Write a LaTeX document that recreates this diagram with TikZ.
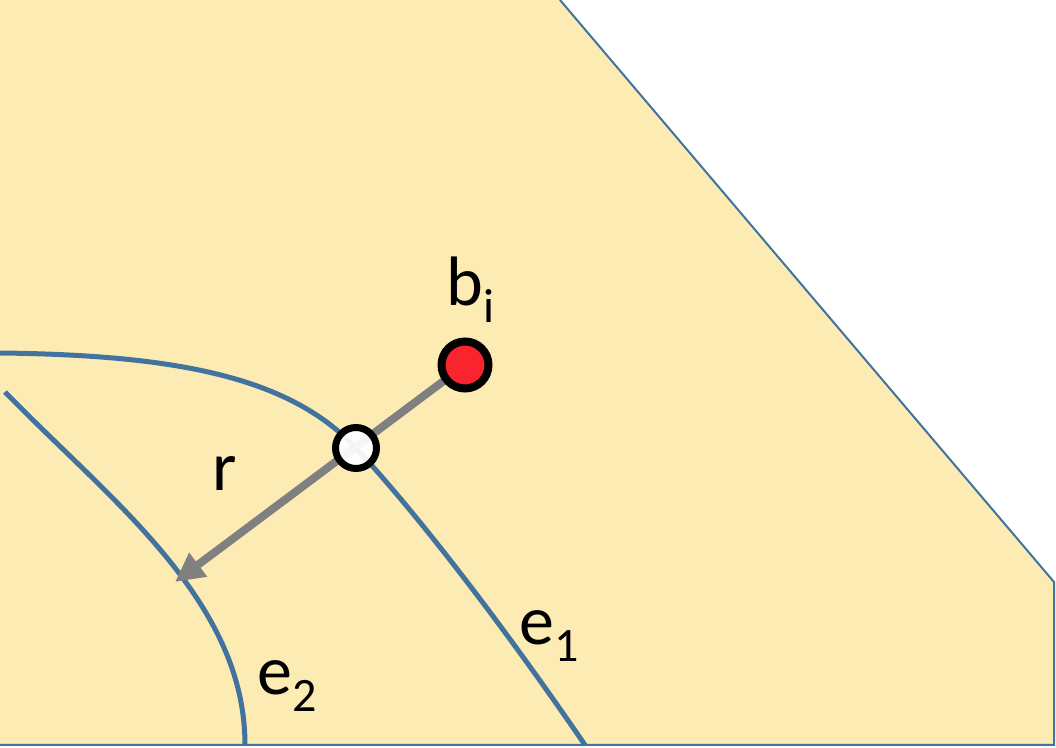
\documentclass[tikz,border=0pt]{standalone}
\usepackage{fontspec}
\setmainfont{Carlito}
\usetikzlibrary{arrows.meta}
\definecolor{regionfill}{RGB}{253,235,180}
\definecolor{edgeblue}{RGB}{66,114,158}
\definecolor{raygray}{RGB}{128,128,128}
\definecolor{ptred}{RGB}{250,36,46}
\newcommand{\lowsub}[1]{\raisebox{-8.5pt}{\fontsize{24}{24}\selectfont #1}}

\begin{document}
\begin{tikzpicture}[
  x=0.5pt, y=-0.5pt,
  edge/.style={draw=edgeblue, line width=2.5pt},
  border/.style={draw=edgeblue, line width=1pt},
  ray/.style={draw=raygray, line width=4pt, -{Triangle[length=14.5pt, width=14pt]}},
  redpt/.style={circle, draw=black, fill=ptred, line width=4pt, minimum size=23.5pt, inner sep=0pt},
  hitpt/.style={circle, draw=black, fill=white, fill opacity=0.92, line width=3.5pt, minimum size=20.5pt, inner sep=0pt},
  lab/.style={anchor=base west, inner sep=0pt, font=\fontsize{35}{40}\selectfont}]
\useasboundingbox (0,0) rectangle (1056,748);
\fill[regionfill] (0,0) -- (560,0) -- (1054,582) -- (1054,745) -- (0,745) -- cycle;
\draw[border] (560,0) -- (1054,582) -- (1054,745) -- (0,745);
\draw[edge] (0,353) .. controls (180,355) and (290,378) .. (356,448) .. controls (430,528) and (520,650) .. (585,745);
\draw[edge] (5,392) .. controls (110,500) and (245,600) .. (245,745);
\coordinate (bi) at (465,365);
\coordinate (tip) at (175,582);
\draw[ray] (bi) -- (tip);
\node[hitpt] (hit) at (356,448) {};
\node[redpt] (bidot) at (bi) {};
\node[lab] (bilab) at (446,306) {b\lowsub{i}};
\node[lab] (rlab) at (212,491) {r};
\node[lab] (e1lab) at (519,645) {e\lowsub{1}};
\node[lab] (e2lab) at (257,695) {e\lowsub{2}};
\end{tikzpicture}
\end{document}
